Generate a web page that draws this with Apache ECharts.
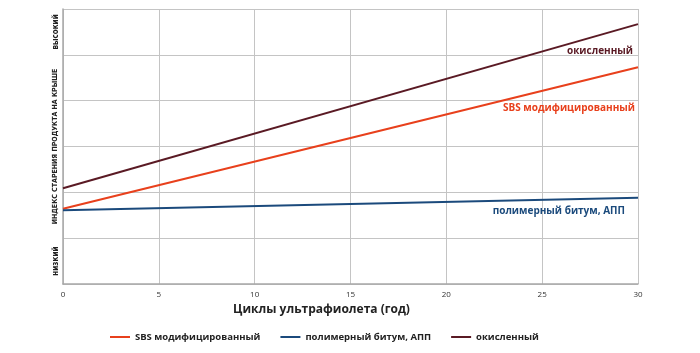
<!DOCTYPE html>
<html>
<head>
<meta charset="utf-8">
<script src="https://cdn.jsdelivr.net/npm/echarts@6/dist/echarts.min.js"></script>
<style>
html, body { margin: 0; padding: 0; background: #fff; }
#chart { width: 700px; height: 353px; }
</style>
</head>
<body>
<div id="chart"></div>
<script>
var years = [0, 30];
var sbsValues = [1.64, 4.73];
var appValues = [1.61, 1.88];
var oxidValues = [2.09, 5.67];
var seriesNames = ['SBS модифицированный', 'полимерный битум, АПП', 'окисленный'];
var yLevelLabels = { '0.5': 'низкий', '5.5': 'высокий' };

var colors = ['#e8401c', '#1b4a7c', '#5a1a24'];
var font = '"Open Sans", sans-serif';
var narrow = '"DejaVu Sans Condensed", sans-serif';

function pairs(vals) {
    return years.map(function(x, i) { return [x, vals[i]]; });
}

var myChart = echarts.init(document.getElementById('chart'));

function lineSeries(name, vals, color, offset) {
    return {
        name: name,
        type: 'line',
        yAxisIndex: 0,
        data: pairs(vals),
        symbol: 'none',
        lineStyle: { color: color, width: 2 },
        itemStyle: { color: color },
        endLabel: {
            show: true,
            formatter: name,
            color: color,
            fontFamily: font,
            fontWeight: 'bold',
            fontSize: 10,
            align: 'right',
            verticalAlign: 'middle',
            offset: offset
        }
    };
}

var option = {
    animation: false,
    color: colors,
    grid: { left: 63, right: 62, top: 9, bottom: 69 },
    legend: {
        bottom: 6,
        left: 105,
        itemGap: 20,
        itemWidth: 20,
        itemHeight: 2,
        icon: 'rect',
        textStyle: { fontFamily: font, fontSize: 9.5, fontWeight: 'bold', color: '#222' },
        data: seriesNames
    },
    xAxis: {
        type: 'value',
        min: 0,
        max: 30,
        interval: 5,
        name: 'Циклы ультрафиолета (год)',
        nameLocation: 'middle',
        nameGap: 20,
        nameTextStyle: {
            fontFamily: font, fontSize: 12, fontWeight: 'bold', color: '#222',
            padding: [0, 58, 0, 0]
        },
        axisLine: { lineStyle: { color: '#a8a8a8', width: 1.5 } },
        axisTick: { show: false },
        axisLabel: { fontFamily: font, fontSize: 8, color: '#333', margin: 7 },
        splitLine: { lineStyle: { color: '#c4c4c4' } }
    },
    yAxis: [
        {
            type: 'value',
            min: 0,
            max: 6,
            interval: 1,
            name: 'ИНДЕКС СТАРЕНИЯ ПРОДУКТА НА КРЫШЕ',
            nameLocation: 'middle',
            nameRotate: 90,
            nameGap: 4,
            nameTextStyle: { fontFamily: narrow, fontSize: 7, fontWeight: 'bold', color: '#222' },
            axisLine: { show: true, lineStyle: { color: '#a8a8a8', width: 1.5 } },
            axisTick: { show: false },
            axisLabel: { show: false },
            splitLine: { lineStyle: { color: '#c4c4c4' } }
        },
        {
            type: 'value',
            position: 'left',
            min: 0,
            max: 6,
            interval: 0.5,
            axisLine: { show: false },
            axisTick: { show: false },
            splitLine: { show: false },
            axisLabel: {
                rotate: 90,
                margin: 3,
                fontFamily: narrow,
                fontSize: 8,
                fontWeight: 'bold',
                color: '#222',
                formatter: function(v) { return yLevelLabels[String(v)] || ''; }
            }
        }
    ],
    series: [
        lineSeries(seriesNames[0], sbsValues, colors[0], [-11, 41]),
        lineSeries(seriesNames[1], appValues, colors[1], [-21, 13]),
        lineSeries(seriesNames[2], oxidValues, colors[2], [-13, 27])
    ]
};

myChart.setOption(option);
</script>
</body>
</html>
